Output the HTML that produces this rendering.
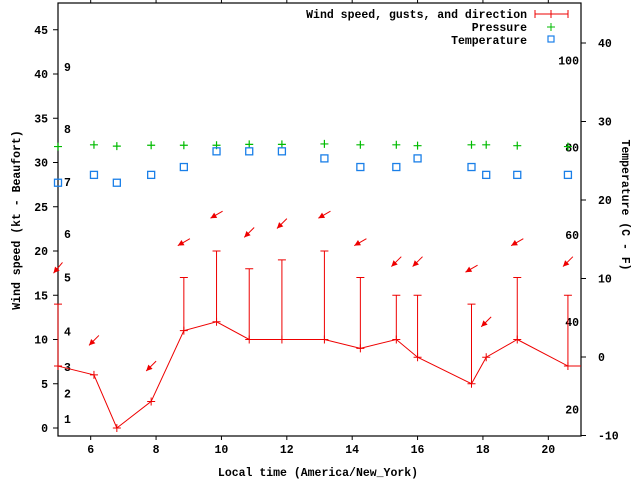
<!DOCTYPE html>
<html><head><meta charset="utf-8"><style>
html,body{margin:0;padding:0;background:#fff;}
svg{display:block;}
text{font-family:"Liberation Mono",monospace;font-weight:bold;font-size:11.5px;fill:#000;}
</style></head><body>
<svg id="chart" width="640" height="480" viewBox="0 0 640 480" xmlns="http://www.w3.org/2000/svg">
<rect width="640" height="480" fill="#fff"/>
<g id="axes"></g>
<g id="marks"></g>
<g id="legend">
<text x="527" y="18" text-anchor="end">Wind speed, gusts, and direction</text>
<line x1="535" y1="14" x2="568" y2="14" stroke="#e00"/>
<line x1="535" y1="10" x2="535" y2="18" stroke="#e00"/><line x1="568" y1="10" x2="568" y2="18" stroke="#e00"/><line x1="551" y1="10" x2="551" y2="18" stroke="#e00"/>
<text x="527" y="31" text-anchor="end">Pressure</text>
<path d="M547 27h8M551 23v8" stroke="#0b0"/>
<text x="527" y="44" text-anchor="end">Temperature</text>
<rect x="548" y="36" width="6" height="6" fill="none" stroke="#1a7fe8" stroke-width="1.2"/>
</g>
<text x="318" y="476" text-anchor="middle">Local time (America/New_York)</text>
<text transform="translate(20,220) rotate(-90)" text-anchor="middle">Wind speed (kt - Beaufort)</text>
<text transform="translate(622,205) rotate(90)" text-anchor="middle">Temperature (C - F)</text>
</svg>
<script>
const times=[5.0,6.1,6.8,7.85,8.85,9.85,10.85,11.85,13.15,14.25,15.35,16.0,17.65,18.1,19.05,20.6];
const wind=[7,6,0,3,11,12,10,10,10,9,10,8,5,8,10,7];
const gusts=[14,null,null,null,17,20,18,19,20,17,15,15,14,null,17,15];
const arrowTimes=[5.0,6.1,7.85,8.85,9.85,10.85,11.85,13.15,14.25,15.35,16.0,17.65,18.1,19.05,20.6];
const dirDeg=[40,45,45,60,60,45,45,60,60,45,45,60,45,60,45];
const arrowLevel=[18.1,9.9,7.0,21.0,24.1,22.1,23.1,24.1,21.0,18.8,18.8,18.0,12.0,21.0,18.8];
const pressure=[31.8,32.0,31.85,31.95,31.95,31.95,32.05,32.05,32.1,32.0,32.0,31.9,32.0,32.0,31.9,31.8];
const tempC=[22.2,23.2,22.2,23.2,24.2,26.2,26.2,26.2,25.3,24.2,24.2,25.3,24.2,23.2,23.2,23.2];
const xTicks=[6,8,10,12,14,16,18,20];
const yTicks=[0,5,10,15,20,25,30,35,40,45];
const y2Ticks=[-10,0,10,20,30,40];
const fTicks=[20,40,60,80,100];
const beaufort=[[1,1.0],[2,3.9],[3,6.9],[4,10.9],[5,17.0],[6,21.9],[7,27.8],[8,33.8],[9,40.8]];
const L=58,R=581,T=3,B=436;
const X=t=>L+(t-5)*(R-L)/16;
const Y=v=>428-v*8.85;
const Y2=c=>357-c*7.85;
const NS="http://www.w3.org/2000/svg";
const ax=document.getElementById('axes'),mk=document.getElementById('marks');
function el(tag,attrs,parent,txt){const e=document.createElementNS(NS,tag);for(const k in attrs)e.setAttribute(k,attrs[k]);if(txt!=null)e.textContent=txt;parent.appendChild(e);return e;}
let e=el('rect',{x:L,y:T,width:R-L,height:B-T,fill:'none',stroke:'#000','stroke-width':1.2},ax);


xTicks.forEach(t=>{const x=X(t);
 el('line',{x1:x,y1:B,x2:x,y2:B+4,stroke:'#000'},ax);el('line',{x1:x,y1:T,x2:x,y2:T-4,stroke:'#000'},ax);
 const tx=el('text',{x:x,y:B+17,'text-anchor':'middle'},ax,String(t));
 
 });
yTicks.forEach(v=>{const y=Y(v);
 el('line',{x1:L-5,y1:y,x2:L,y2:y,stroke:'#000'},ax);
 const tx=el('text',{x:L-10,y:y+4,'text-anchor':'end'},ax,String(v));
 
 });
y2Ticks.forEach(v=>{const y=Y2(v);
 el('line',{x1:R,y1:y,x2:R+5,y2:y,stroke:'#000'},ax);
 const tx=el('text',{x:598,y:y+4},ax,String(v));
 
 });
fTicks.forEach(f=>{const y=Y2((f-32)*5/9);
 const tx=el('text',{x:579,y:y+4,'text-anchor':'end'},ax,String(f));
 
 });
beaufort.forEach(([b,v])=>{
 const tx=el('text',{x:64,y:Y(v)+4},ax,String(b));
 
 });
times.forEach((t,i)=>{const x=X(t),y=Y(pressure[i]);
 const p=el('path',{d:`M${x-4} ${y}h8M${x} ${y-4}v8`,stroke:'#0b0','stroke-width':1.2},mk);
 
 });
times.forEach((t,i)=>{const x=X(t),y=Y2(tempC[i]);
 const r=el('rect',{x:x-3.5,y:y-3.5,width:7,height:7,fill:'none',stroke:'#1a7fe8','stroke-width':1.3},mk);
 
 });
let d='';times.forEach((t,i)=>{d+=(i?'L':'M')+X(t)+' '+Y(wind[i]);});
d+='L'+R+' '+Y(wind[wind.length-1]);
const wl=el('path',{d:d,fill:'none',stroke:'#e00','stroke-width':1},mk);


times.forEach((t,i)=>{const x=X(t),y=Y(wind[i]);
 const p=el('path',{d:`M${x-4} ${y}h8M${x} ${y-4}v8`,stroke:'#e00'},mk);
 
 
 if(gusts[i]!=null){const g=Y(gusts[i]);
  const b=el('path',{d:`M${x} ${y}V${g}M${x-4} ${g}h8`,stroke:'#e00'},mk);
  
  }
});
arrowTimes.forEach((t,i)=>{const x=X(t),cy=Y(arrowLevel[i]),a=dirDeg[i]*Math.PI/180;
  const dx=Math.sin(a),dy=-Math.cos(a),len=7;
  const x1=x+dx*len,y1=cy+dy*len,x2=x-dx*len,y2=cy-dy*len;
  const px=-dy,py=dx;
  const g=el('g',{},mk);
  
  
  el('line',{x1:x1,y1:y1,x2:x2,y2:y2,stroke:'#e00'},g);
  const hx=x2+dx*6,hy=y2+dy*6;
  el('polygon',{points:`${x2},${y2} ${hx+px*3},${hy+py*3} ${hx-px*3},${hy-py*3}`,fill:'#e00'},g);
});
</script>
</body></html>
